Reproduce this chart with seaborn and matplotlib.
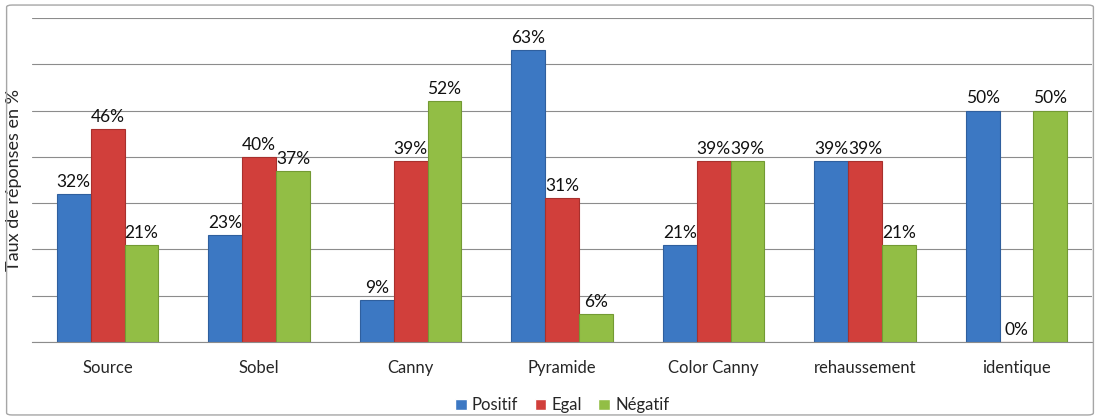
import numpy as np
import pandas as pd
import seaborn as sns
import matplotlib.pyplot as plt
from matplotlib.patches import FancyBboxPatch

# data
categories = ["Source", "Sobel", "Canny", "Pyramide", "Color Canny", "rehaussement", "identique"]
positif = [32, 23, 9, 63, 21, 39, 50]
egal = [46, 40, 39, 31, 39, 39, 0]
negatif = [21, 37, 52, 6, 39, 21, 50]
series = ["Positif", "Egal", "Négatif"]

df = pd.DataFrame({
    "cat": categories * 3,
    "serie": [s for s in series for _ in categories],
    "val": positif + egal + negatif,
})

sns.set_style("white")
plt.rcParams["font.family"] = ["Lato", "DejaVu Sans"]

colors = ["#3C78C3", "#D13F3B", "#92BE45"]
edges = ["#2F5F9E", "#A8302D", "#739A33"]

fig = plt.figure(figsize=(11, 4.2), dpi=100)
ax = fig.add_axes([0.029, 0.186, 0.964, 0.771])

sns.barplot(data=df, x="cat", y="val", hue="serie", palette=colors,
            width=0.67, saturation=1, ax=ax, legend=True)

for i, cont in enumerate(ax.containers):
    for b in cont:
        b.set_edgecolor(edges[i])
        b.set_linewidth(0.8)
    ax.bar_label(cont, labels=[f"{int(v)}%" for v in cont.datavalues],
                 padding=3, fontsize=12.5, color="#111111")

ax.set_ylim(0, 70)
ax.set_xlim(-0.5, len(categories) - 0.5)
ax.set_yticks(np.arange(0, 71, 10))
ax.set_yticklabels([])
ax.tick_params(axis="y", length=0)
ax.yaxis.grid(True, color="#8C8C8C", linewidth=0.8)
ax.set_axisbelow(True)

ax.set_xticks(np.arange(-0.5, len(categories), 1), minor=True)
ax.tick_params(axis="x", which="minor", length=5, color="#8C8C8C", direction="out")
ax.tick_params(axis="x", which="major", length=0, pad=13, labelsize=12)

for s in ["top", "right", "left"]:
    ax.spines[s].set_visible(False)
ax.spines["bottom"].set_color("#8C8C8C")

ax.set_xlabel("")
ax.set_ylabel("Taux de réponses en %", fontsize=13)
ax.yaxis.set_label_coords(-0.009, 0.5)

leg = ax.legend(loc="upper center", bbox_to_anchor=(0.5, -0.125), ncol=3,
                frameon=False, fontsize=12, handlelength=0.7, handleheight=0.7,
                handletextpad=0.3, columnspacing=1.0)

fig.patches.append(FancyBboxPatch((0.006, 0.012), 0.988, 0.976,
                                  boxstyle="round,pad=0,rounding_size=0.005",
                                  transform=fig.transFigure, fill=False,
                                  edgecolor="#A6A6A6", linewidth=1))

fig.savefig("out.png", dpi=100)
